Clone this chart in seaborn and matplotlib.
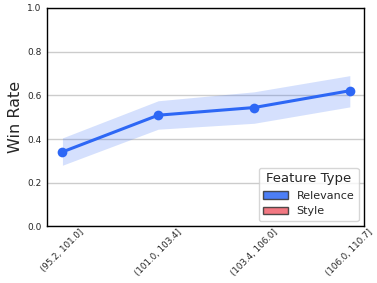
import matplotlib
matplotlib.use("Agg")
import matplotlib.pyplot as plt
import seaborn as sns
import numpy as np
from matplotlib.patches import Patch

bins = ["(95.2, 101.0]", "(101.0, 103.4]", "(103.4, 106.0]", "(106.0, 110.7]"]
win_rate = [0.341, 0.509, 0.544, 0.621]
ci_low = [0.280, 0.445, 0.472, 0.547]
ci_high = [0.405, 0.575, 0.616, 0.690]
feature_types = ["Relevance", "Style"]

blue = "#2d67f5"
red = "#f0606c"

sns.set_theme(style="whitegrid")
fig, ax = plt.subplots(figsize=(3.77, 2.83), dpi=100)

x = np.arange(len(bins))
sns.lineplot(x=x, y=win_rate, color=blue, marker="o", markersize=7,
             markeredgewidth=0, linewidth=2.2, ax=ax)
ax.fill_between(x, ci_low, ci_high, color=blue, alpha=0.2, linewidth=0)

ax.set_xlim(-0.16, 3.15)
ax.set_ylim(0, 1.0)
ax.set_xticks(x)
ax.set_xticklabels(bins, rotation=45, fontsize=6.3)
ax.set_yticks([0, 0.2, 0.4, 0.6, 0.8, 1.0])
ax.tick_params(axis="y", labelsize=6.5, pad=4, length=0)
ax.tick_params(axis="x", pad=1, length=0)
ax.set_ylabel("Win Rate", fontsize=11.5, labelpad=3)
ax.set_xlabel("")
ax.xaxis.grid(False)
for s in ax.spines.values():
    s.set_color("black")
    s.set_linewidth(1.0)

handles = [Patch(facecolor=c, edgecolor="#333333", alpha=0.85, label=l)
           for c, l in zip([blue, red], feature_types)]
ax.legend(handles=handles, title="Feature Type", loc="lower right",
          fontsize=8, title_fontsize=9.5, handlelength=2.2)

fig.subplots_adjust(left=0.125, right=0.966, top=0.972, bottom=0.2)
fig.savefig("out.png", dpi=100)
